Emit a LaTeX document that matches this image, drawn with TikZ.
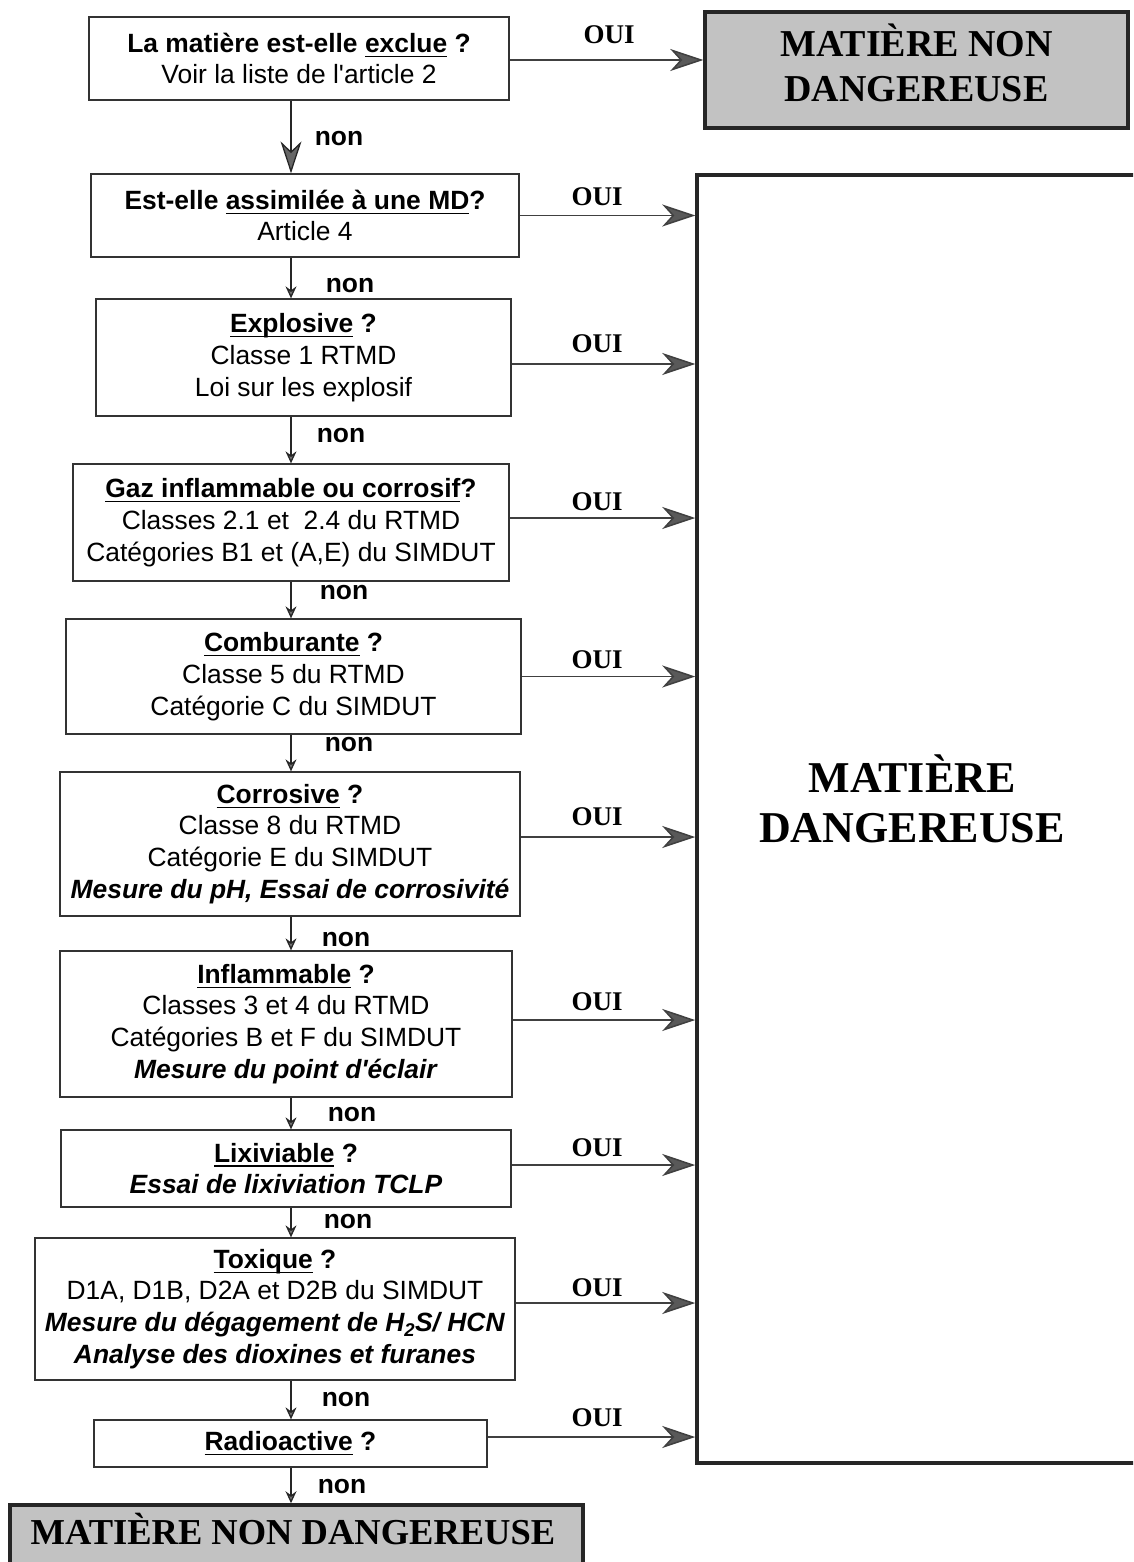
\documentclass[tikz,border=0pt]{standalone}
\usepackage{fontspec}
\setmainfont{Liberation Sans}
\newfontfamily\titlefont{Liberation Serif}
\usetikzlibrary{arrows.meta}

\newcommand\qfont{\fontsize{26.4}{31.7}\selectfont}
% underline drawn as a rule at a fixed depth below the baseline
\newsavebox\undlbox
\newcommand\undl[1]{\sbox\undlbox{#1}\rlap{\vrule width\wd\undlbox height -3.4pt depth 4.8pt}\usebox\undlbox}

\tikzset{
  qbox/.style={draw=black!80, line width=1.3pt, align=center, font=\qfont, inner sep=0pt},
  greybox/.style={draw=black!85, fill=black!24, line width=3.5pt},
  bigtitle/.style={font=\titlefont\bfseries\fontsize{38}{45}\selectfont, anchor=base, inner sep=0pt},
  ouilbl/.style={font=\titlefont\bfseries\fontsize{27}{30}\selectfont, inner sep=0pt},
  nonlbl/.style={font=\bfseries\qfont, inner sep=0pt},
  downarrow/.style={draw=black!85, line width=1.3pt,
    -{Stealth[length=12pt,width=11pt,inset=4pt,fill=black!55]}},
  bigdown/.style={draw=black!85, line width=1.3pt,
    -{Stealth[length=32pt,width=21pt,inset=10pt,fill=black!60]}},
  ouiarrow/.style={draw=black!75, line width=1.5pt,
    -{Stealth[length=33pt,width=22pt,inset=10pt,fill=black!65]}}
}

\begin{document}
\begin{tikzpicture}[x=1pt, y=-1pt]
\useasboundingbox (0,0) rectangle (1133,1562);
\clip (0,0) rectangle (1133,1562);

% column of questions
\node[qbox, minimum width=420, minimum height=83] (b1) at (299,58.5)
  {\textbf{La matière est-elle \undl{exclue} ?}\\Voir la liste de l\textquotesingle article 2};
\node[qbox, minimum width=428, minimum height=83] (b2) at (305,215.5)
  {\textbf{Est-elle \undl{assimilée à une MD}?}\\Article 4};
\node[qbox, minimum width=415, minimum height=117] (b3) at (303.5,357.5)
  {\textbf{\undl{Explosive} ?}\\Classe 1 RTMD\\Loi sur les explosif};
\node[qbox, minimum width=436, minimum height=117] (b4) at (291,522.5)
  {\textbf{\undl{Gaz inflammable ou corrosif}?}\\Classes 2.1 et\ \ 2.4 du RTMD\\Catégories B1 et (A,E) du SIMDUT};
\node[qbox, minimum width=455, minimum height=115] (b5) at (293.5,676.5)
  {\textbf{\undl{Comburante} ?}\\Classe 5 du RTMD\\Catégorie C du SIMDUT};
\node[qbox, minimum width=460, minimum height=144] (b6) at (290,844)
  {\textbf{\undl{Corrosive} ?}\\Classe 8 du RTMD\\Catégorie E du SIMDUT\\\textbf{\textit{Mesure du pH, Essai de corrosivité}}};
\node[qbox, minimum width=452, minimum height=146] (b7) at (286,1024)
  {\textbf{\undl{Inflammable} ?}\\Classes 3 et 4 du RTMD\\Catégories B et F du SIMDUT\\\textbf{\textit{Mesure du point d\textquotesingle éclair}}};
\node[qbox, minimum width=450, minimum height=77] (b8) at (286,1168.5)
  {\textbf{\undl{Lixiviable} ?}\\\textbf{\textit{Essai de lixiviation TCLP}}};
\node[qbox, minimum width=480, minimum height=142] (b9) at (275,1309)
  {\textbf{\undl{Toxique} ?}\\D1A, D1B, D2A et D2B du SIMDUT\\\textbf{\textit{Mesure du dégagement de H\textsubscript{2}S/ HCN}}\\\textbf{\textit{Analyse des dioxines et furanes}}};
\node[qbox, minimum width=393, minimum height=47] (b10) at (290.5,1443.5)
  {\textbf{\undl{Radioactive} ?}};

% outcome boxes
\node[greybox, minimum width=423, minimum height=116] (tr) at (916.5,70) {};
\node[bigtitle] (tr1) at (916.5,57) {MATIÈRE NON};
\node[bigtitle] (tr2) at (916.5,102) {DANGEREUSE};

\node[draw=black!85, line width=3.5pt, minimum width=473, minimum height=1288] (big) at (933.5,819) {};
\node[bigtitle, font=\titlefont\bfseries\fontsize{44}{50}\selectfont] (md1) at (912,792) {MATIÈRE};
\node[bigtitle, font=\titlefont\bfseries\fontsize{44}{50}\selectfont] (md2) at (912,842) {DANGEREUSE};

\node[greybox, minimum width=573, minimum height=95] (nd) at (296.5,1552.5) {};
\node[bigtitle, font=\titlefont\bfseries\fontsize{36.5}{42}\selectfont] (nd1) at (293,1544) {MATIÈRE NON DANGEREUSE};

% "non" branches
\coordinate (ax) at (291,0);
\draw[bigdown]   (b1.south -| ax) -- (b2.north -| ax);
\draw[downarrow] (b2.south -| ax) -- (b3.north -| ax);
\draw[downarrow] (b3.south -| ax) -- (b4.north -| ax);
\draw[downarrow] (b4.south -| ax) -- (b5.north -| ax);
\draw[downarrow] (b5.south -| ax) -- (b6.north -| ax);
\draw[downarrow] (b6.south -| ax) -- (b7.north -| ax);
\draw[downarrow] (b7.south -| ax) -- (b8.north -| ax);
\draw[downarrow] (b8.south -| ax) -- (b9.north -| ax);
\draw[downarrow] (b9.south -| ax) -- (b10.north -| ax);
\draw[downarrow] (b10.south -| ax) -- (nd.north -| ax);

\node[nonlbl] (n1) at (339,139) {non};
\node[nonlbl] (n2) at (350,286) {non};
\node[nonlbl] (n3) at (341,436) {non};
\node[nonlbl] (n4) at (344,593) {non};
\node[nonlbl] (n5) at (349,745) {non};
\node[nonlbl] (n6) at (346,940) {non};
\node[nonlbl] (n7) at (352,1115) {non};
\node[nonlbl] (n8) at (348,1222) {non};
\node[nonlbl] (n9) at (346,1400) {non};
\node[nonlbl] (n10) at (342,1487) {non};

% "OUI" branches
\draw[ouiarrow] ([yshift=-1.5pt]b1.east) -- ([yshift=-1.5pt]b1.east -| tr.west);
\draw[ouiarrow] (b2.east) -- (b2.east -| big.west);
\draw[ouiarrow] ([yshift=-6.5pt]b3.east) -- ([yshift=-6.5pt]b3.east -| big.west);
\draw[ouiarrow] ([yshift=4.5pt]b4.east) -- ([yshift=4.5pt]b4.east -| big.west);
\draw[ouiarrow] (b5.east) -- (b5.east -| big.west);
\draw[ouiarrow] ([yshift=7pt]b6.east) -- ([yshift=7pt]b6.east -| big.west);
\draw[ouiarrow] ([yshift=4pt]b7.east) -- ([yshift=4pt]b7.east -| big.west);
\draw[ouiarrow] ([yshift=3.5pt]b8.east) -- ([yshift=3.5pt]b8.east -| big.west);
\draw[ouiarrow] ([yshift=6pt]b9.east) -- ([yshift=6pt]b9.east -| big.west);
\draw[ouiarrow] ([yshift=6.5pt]b10.east) -- ([yshift=6.5pt]b10.east -| big.west);

\node[ouilbl] (o1) at (609,35) {OUI};
\node[ouilbl] (o2) at (597,197) {OUI};
\node[ouilbl] (o3) at (597,344) {OUI};
\node[ouilbl] (o4) at (597,502) {OUI};
\node[ouilbl] (o5) at (597,660) {OUI};
\node[ouilbl] (o6) at (597,817) {OUI};
\node[ouilbl] (o7) at (597,1002) {OUI};
\node[ouilbl] (o8) at (597,1148) {OUI};
\node[ouilbl] (o9) at (597,1288) {OUI};
\node[ouilbl] (o10) at (597,1418) {OUI};
\end{tikzpicture}
\end{document}
